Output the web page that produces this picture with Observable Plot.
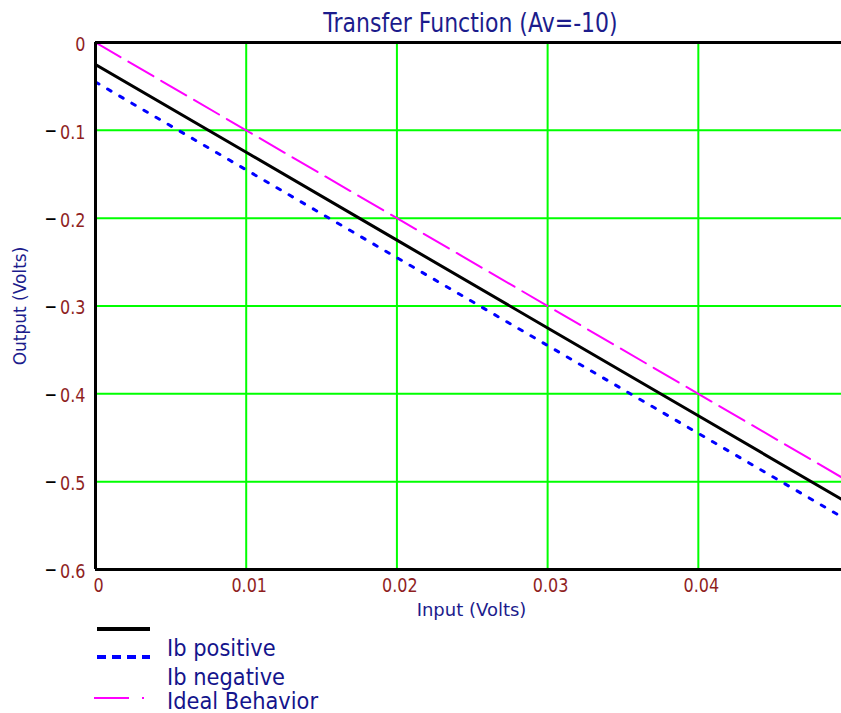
<!DOCTYPE html>
<html>
<head>
<meta charset="utf-8">
<script src="https://cdn.jsdelivr.net/npm/d3@7"></script>
<script src="https://cdn.jsdelivr.net/npm/@observablehq/plot@0.6"></script>
<style>
  body { margin: 0; background: #fff; font-family: "DejaVu Sans", sans-serif; }
  #wrap { width: 841px; height: 713px; position: relative; overflow: hidden; }
  #title { height: 30px; position: relative; }
  #title span { position: absolute; left: 0; width: 841px; padding-left: 100px; box-sizing: border-box; top: 12px; font-size: 22px; line-height: 22px; text-align: center; color: #1c1c8c; white-space: nowrap; transform: scaleY(1.22); transform-origin: center; }
  #legend { position: relative; height: 89px; }
  .sw { position: absolute; }
  .lt { position: absolute; left: 167px; font-size: 21px; line-height: 22px; color: #14148c; white-space: nowrap; transform: scaleY(1.08); transform-origin: left center; }
</style>
</head>
<body>
<div id="wrap">
  <div id="title"><span>Transfer Function (Av=-10)</span></div>
  <div id="chart"></div>
  <div id="legend"></div>
</div>
<script>
const inputV = [0, 0.01, 0.02, 0.03, 0.04, 0.0495];
const ibPositive = [-0.025, -0.125, -0.225, -0.325, -0.425, -0.52];
const ibNegative = [-0.045, -0.145, -0.245, -0.345, -0.445, -0.54];
const idealBehavior = [0, -0.1, -0.2, -0.3, -0.4, -0.495];
const xTicks = [0, 0.01, 0.02, 0.03, 0.04];
const yTicks = [0, -0.1, -0.2, -0.3, -0.4, -0.5, -0.6];
const seriesNames = ["Ib positive", "Ib negative", "Ideal Behavior"];

const pts = (arr) => inputV.map((x, i) => ({x, y: arr[i]}));
const tickColor = "#8f1f1f";
const navy = "#1c1c8c";

const chart = Plot.plot({
  width: 841,
  height: 594,
  marginTop: 12,
  marginLeft: 95,
  marginRight: 0,
  marginBottom: 55,
  style: {fontFamily: "DejaVu Sans, sans-serif", fontSize: "16px", background: "#fff", overflow: "visible"},
  x: {domain: [0, 0.0495]},
  y: {domain: [-0.6, 0]},
  marks: [
    Plot.ruleX(xTicks.filter(d => d > 0), {stroke: "#00ff00", strokeWidth: 2}),
    Plot.ruleY(yTicks.filter(d => d < 0 && d > -0.6), {stroke: "#00ff00", strokeWidth: 2}),
    Plot.line(pts(idealBehavior), {x: "x", y: "y", stroke: "#ff00ff", strokeWidth: 2, strokeDasharray: "29,9", clip: true}),
    Plot.line(pts(ibNegative), {x: "x", y: "y", stroke: "#0000ff", strokeWidth: 3, strokeDasharray: "4,10", clip: true}),
    Plot.line(pts(ibPositive), {x: "x", y: "y", stroke: "#000", strokeWidth: 3, clip: true}),
    Plot.ruleY([0, -0.6], {stroke: "#000", strokeWidth: 3}),
    Plot.ruleX([0], {stroke: "#000", strokeWidth: 3}),
    Plot.axisX(xTicks, {tickSize: 0, tickPadding: 8, dx: 3, fill: tickColor, label: null, fontSize: 16, tickFormat: d => d === 0 ? "0" : String(d)}),
    Plot.axisY(yTicks, {tickSize: 0, tickPadding: 10, dy: 2, fill: tickColor, label: null, fontSize: 16, tickFormat: d => String(Math.abs(d))}),
    Plot.text(yTicks.filter(d => d < 0), {y: d => d, text: () => "\u2212", frameAnchor: "left", textAnchor: "start", dx: -51, dy: 1, fill: "#000", fontWeight: "bold", fontSize: 15}),
    Plot.text(["Input (Volts)"], {frameAnchor: "bottom", textAnchor: "middle", dy: 46, dx: 3, fill: navy, fontSize: 18}),
    Plot.text(["Output (Volts)"], {frameAnchor: "left", textAnchor: "middle", dx: -75, rotate: -90, fill: navy, fontSize: 17})
  ]
});
document.getElementById("chart").appendChild(chart);

// stretch tick label glyphs vertically, as in the reference
d3.select(chart).selectAll('g[aria-label="x-axis tick label"] text, g[aria-label="y-axis tick label"] text').each(function() {
  const t = this.getAttribute("transform") || "";
  this.setAttribute("transform", t + " scale(1,1.25)");
});

// legend
const legend = document.getElementById("legend");
const swatches = [
  {top: 5, stroke: "#000", width: 4, dash: null},
  {top: 33, stroke: "#0000ff", width: 4, dash: "9,6"},
  {top: 74, stroke: "#ff00ff", width: 2, dash: "35,13,2,100"}
];
const textTops = [24, 53, 77];
seriesNames.forEach((name, i) => {
  const s = swatches[i];
  const x0 = i === 2 ? 94 : 97;
  const svg = `<svg class="sw" style="left:${x0}px;top:${s.top - 3}px" width="60" height="6"><line x1="0" x2="${150 - x0}" y1="3" y2="3" stroke="${s.stroke}" stroke-width="${s.width}" ${s.dash ? `stroke-dasharray="${s.dash}"` : ""}/></svg>`;
  legend.insertAdjacentHTML("beforeend", svg);
  const t = document.createElement("div");
  t.className = "lt";
  t.style.top = (textTops[i] - 11) + "px";
  t.textContent = name;
  legend.appendChild(t);
});
</script>
</body>
</html>
